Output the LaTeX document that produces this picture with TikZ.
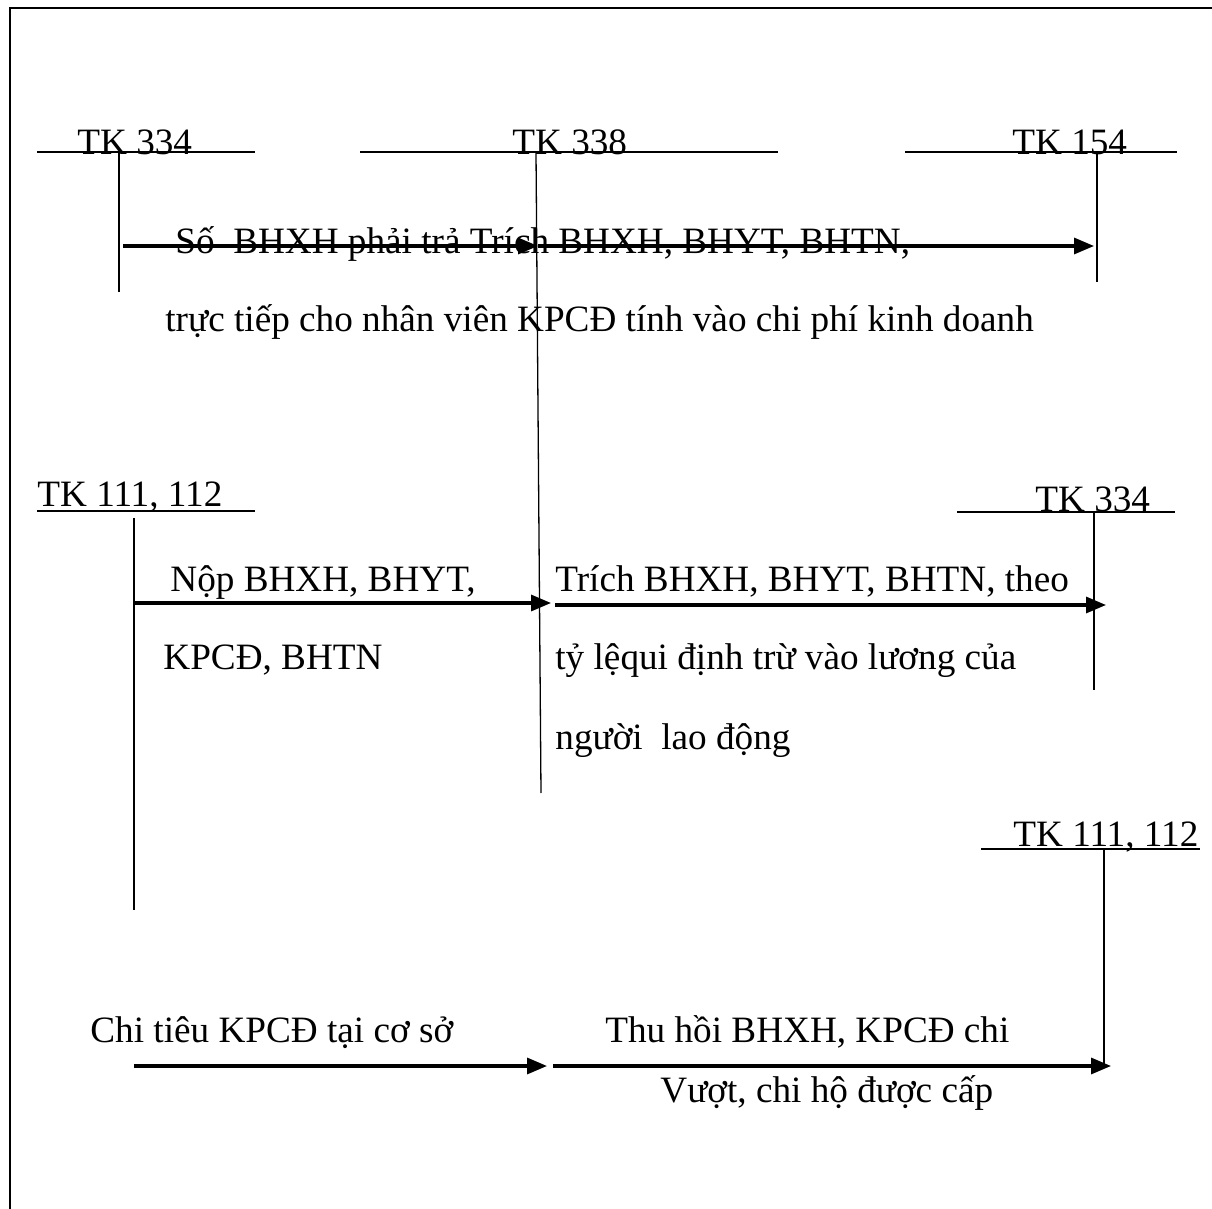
\documentclass[tikz,border=0pt]{standalone}
\usepackage{fontspec}
\setmainfont{Liberation Serif}
\usetikzlibrary{arrows.meta}

\tikzset{
  lbl/.style={inner sep=0pt, anchor=base west, font=\fontsize{18.6}{22}\selectfont},
  tline/.style={line width=0.65pt},
  flow/.style={line width=1.6pt, -{Triangle[length=10pt,width=8pt]}},
}

\begin{document}
\begin{tikzpicture}[x=0.5pt,y=-0.5pt]
    \useasboundingbox (0,0) rectangle (1212,1209);
    % Khung
    \draw[line width=1.2pt] (10,1209) -- (10,8) -- (1212,8);

    % Tài khoản hàng trên
    \node[lbl] (tk334a) at (77,155) {TK 334};
    \node[lbl] (tk338) at (512,155) {TK 338};
    \node[lbl] (tk154) at (1012,155) {TK 154};
    \draw[tline] (37,152) -- (255,152);
    \draw[tline] (360,152) -- (778,152);
    \draw[tline] (905,152) -- (1177,152);
    \coordinate (a334top) at (119,152);
    \coordinate (a334bot) at (119,292);
    \coordinate (a338top) at (536,152);
    \coordinate (a338bot) at (541,793);
    \coordinate (a154top) at (1097,152);
    \coordinate (a154bot) at (1097,282);
    \draw[tline] (a334top) -- (a334bot);
    \draw[tline] (a338top) -- (a338bot);
    \draw[tline] (a154top) -- (a154bot);

    % Tài khoản hàng giữa
    \node[lbl] (tk111a) at (37,507) {TK 111, 112};
    \node[lbl] (tk334b) at (1035,512) {TK 334};
    \draw[tline] (37,511) -- (255,511);
    \draw[tline] (957,512) -- (1175,512);
    \coordinate (a111top) at (134,518);
    \coordinate (a111bot) at (134,910);
    \coordinate (b334top) at (1094,512);
    \coordinate (b334bot) at (1094,690);
    \draw[tline] (a111top) -- (a111bot);
    \draw[tline] (b334top) -- (b334bot);

    % Tài khoản hàng dưới
    \node[lbl] (tk111b) at (1013,846) {TK 111, 112};
    \draw[tline] (981,849) -- (1200,849);
    \coordinate (b111top) at (1104,849);
    \coordinate (b111bot) at (1104,1066);
    \draw[tline] (b111top) -- (b111bot);

    % Diễn giải
    \node[lbl] (so) at (175,254) {Số\ \ BHXH phải trả Trích BHXH, BHYT, BHTN,};
    \node[lbl] (tructiep) at (165,332) {trực tiếp cho nhân viên KPCĐ tính vào chi phí kinh doanh};
    \node[lbl] (nop1) at (170,591) {Nộp BHXH, BHYT,};
    \node[lbl] (nop2) at (163,669) {KPCĐ, BHTN};
    \node[lbl] (trich1) at (555,591) {Trích BHXH, BHYT, BHTN, theo};
    \node[lbl] (trich2) at (555,669) {tỷ lệqui định trừ vào lương của};
    \node[lbl] (trich3) at (555,749) {người\ \ lao động};
    \node[lbl] (chitieu) at (90,1042) {Chi tiêu KPCĐ tại cơ sở};
    \node[lbl] (thuhoi1) at (605,1042) {Thu hồi BHXH, KPCĐ chi};
    \node[lbl] (thuhoi2) at (660,1102) {Vượt, chi hộ được cấp};

    % Điểm đầu, cuối mũi tên
    \coordinate (r1a) at (123,246);
    \coordinate (r1b) at (538,246);
    \coordinate (r1c) at (1094,246);
    \coordinate (r2a) at (134,603);
    \coordinate (r2b) at (551,603);
    \coordinate (r2c) at (555,605);
    \coordinate (r2d) at (1106,605);
    \coordinate (r3a) at (134,1066);
    \coordinate (r3b) at (547,1066);
    \coordinate (r3c) at (553,1066);
    \coordinate (r3d) at (1111,1066);

    % Mũi tên
    \draw[flow] (r1a) -- (r1b);
    \draw[flow] (r1b) -- (r1c);
    \draw[flow] (r2a) -- (r2b);
    \draw[flow] (r2c) -- (r2d);
    \draw[flow] (r3a) -- (r3b);
    \draw[flow] (r3c) -- (r3d);

\end{tikzpicture}
\end{document}
